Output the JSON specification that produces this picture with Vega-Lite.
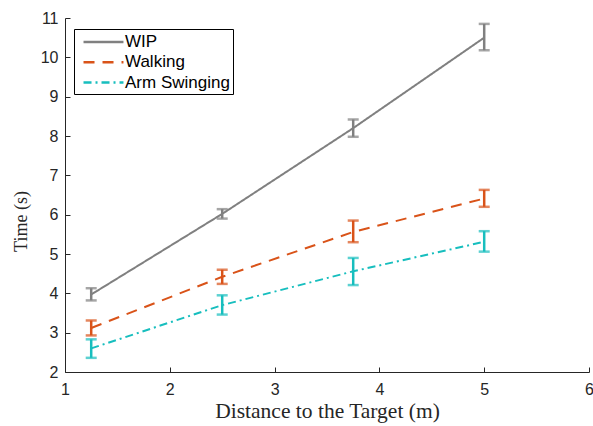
{
  "$schema": "https://vega.github.io/schema/vega-lite/v6.json",
  "width": 524,
  "height": 354,
  "autosize": {"type": "none"},
  "padding": {"left": 65, "top": 18, "right": 4, "bottom": 54},
  "data": {"values": [
    {"series": "WIP", "x": 1.25, "y": 3.97, "lo": 3.82, "hi": 4.13},
    {"series": "WIP", "x": 2.5, "y": 6.02, "lo": 5.9, "hi": 6.14},
    {"series": "WIP", "x": 3.75, "y": 8.2, "lo": 7.98, "hi": 8.42},
    {"series": "WIP", "x": 5, "y": 10.5, "lo": 10.18, "hi": 10.85},
    {"series": "Walking", "x": 1.25, "y": 3.12, "lo": 2.93, "hi": 3.31},
    {"series": "Walking", "x": 2.5, "y": 4.42, "lo": 4.24, "hi": 4.6},
    {"series": "Walking", "x": 3.75, "y": 5.56, "lo": 5.3, "hi": 5.85},
    {"series": "Walking", "x": 5, "y": 6.41, "lo": 6.2, "hi": 6.63},
    {"series": "Arm Swinging", "x": 1.25, "y": 2.6, "lo": 2.36, "hi": 2.83},
    {"series": "Arm Swinging", "x": 2.5, "y": 3.7, "lo": 3.46, "hi": 3.95},
    {"series": "Arm Swinging", "x": 3.75, "y": 4.56, "lo": 4.21, "hi": 4.9},
    {"series": "Arm Swinging", "x": 5, "y": 5.31, "lo": 5.06, "hi": 5.58}
  ]},
  "config": {
    "view": {"stroke": null},
    "axis": {
      "grid": false,
      "domainColor": "#262626",
      "tickColor": "#262626",
      "tickSize": -5,
      "labelFont": "Liberation Sans",
      "labelFontSize": 16,
      "labelColor": "#262626",
      "labelFlush": false,
      "labelOverlap": false,
      "format": "d",
      "titleFont": "Liberation Serif",
      "titleFontWeight": "normal",
      "titleColor": "#262626"
    },
    "axisX": {"titlePadding": 3, "labelPadding": 14, "titleFontSize": 21.5},
    "axisY": {"titlePadding": 10, "labelPadding": 12, "titleFontSize": 18, "titleY": 203},
    "legend": {
      "labelFont": "Liberation Sans",
      "labelFontSize": 17,
      "labelColor": "#000000"
    }
  },
  "layer": [
    {
      "mark": {"type": "line", "strokeWidth": 2},
      "encoding": {
        "x": {"field": "x", "type": "quantitative", "scale": {"domain": [1, 6], "nice": false},
              "axis": {"values": [1, 2, 3, 4, 5, 6], "title": "Distance to the Target (m)"}},
        "y": {"field": "y", "type": "quantitative", "scale": {"domain": [2, 11], "nice": false},
              "axis": {"values": [2, 3, 4, 5, 6, 7, 8, 9, 10, 11], "title": "Time (s)"}},
        "color": {"field": "series", "type": "nominal",
                  "scale": {"domain": ["WIP", "Walking", "Arm Swinging"], "range": ["#808080", "#D95319", "#17BEBE"]},
                  "legend": {"title": null, "orient": "none", "legendX": 9, "legendY": 11, "symbolType": "M-0.41,0H4.29", "symbolSize": 289, "symbolStrokeWidth": 2.5, "strokeColor": "#000000", "fillColor": "#ffffff", "padding": 3, "rowPadding": 2.3, "labelOffset": 28}},
        "strokeDash": {"field": "series", "type": "nominal",
                  "scale": {"domain": ["WIP", "Walking", "Arm Swinging"], "range": [[1, 0], [11, 8], [8, 4, 2, 4]]},
                  "legend": {"title": null, "orient": "none", "legendX": 9, "legendY": 11, "symbolType": "M-0.41,0H4.29", "symbolSize": 289, "symbolStrokeWidth": 2.5, "strokeColor": "#000000", "fillColor": "#ffffff", "padding": 3, "rowPadding": 2.3, "labelOffset": 28}}
      }
    },
    {
      "mark": {"type": "rule", "strokeWidth": 2.5},
      "encoding": {
        "x": {"field": "x", "type": "quantitative",
              "axis": {"values": [1, 2, 3, 4, 5, 6], "title": "Distance to the Target (m)"}},
        "y": {"field": "lo", "type": "quantitative",
              "axis": {"values": [2, 3, 4, 5, 6, 7, 8, 9, 10, 11], "title": "Time (s)"}},
        "y2": {"field": "hi"},
        "color": {"field": "series", "type": "nominal", "legend": null}
      }
    },
    {
      "mark": {"type": "tick", "orient": "horizontal", "size": 11, "thickness": 2.5},
      "encoding": {
        "x": {"field": "x", "type": "quantitative",
              "axis": {"values": [1, 2, 3, 4, 5, 6], "title": "Distance to the Target (m)"}},
        "y": {"field": "lo", "type": "quantitative",
              "axis": {"values": [2, 3, 4, 5, 6, 7, 8, 9, 10, 11], "title": "Time (s)"}},
        "color": {"field": "series", "type": "nominal", "legend": null}
      }
    },
    {
      "mark": {"type": "tick", "orient": "horizontal", "size": 11, "thickness": 2.5},
      "encoding": {
        "x": {"field": "x", "type": "quantitative",
              "axis": {"values": [1, 2, 3, 4, 5, 6], "title": "Distance to the Target (m)"}},
        "y": {"field": "hi", "type": "quantitative",
              "axis": {"values": [2, 3, 4, 5, 6, 7, 8, 9, 10, 11], "title": "Time (s)"}},
        "color": {"field": "series", "type": "nominal", "legend": null}
      }
    }
  ]
}
